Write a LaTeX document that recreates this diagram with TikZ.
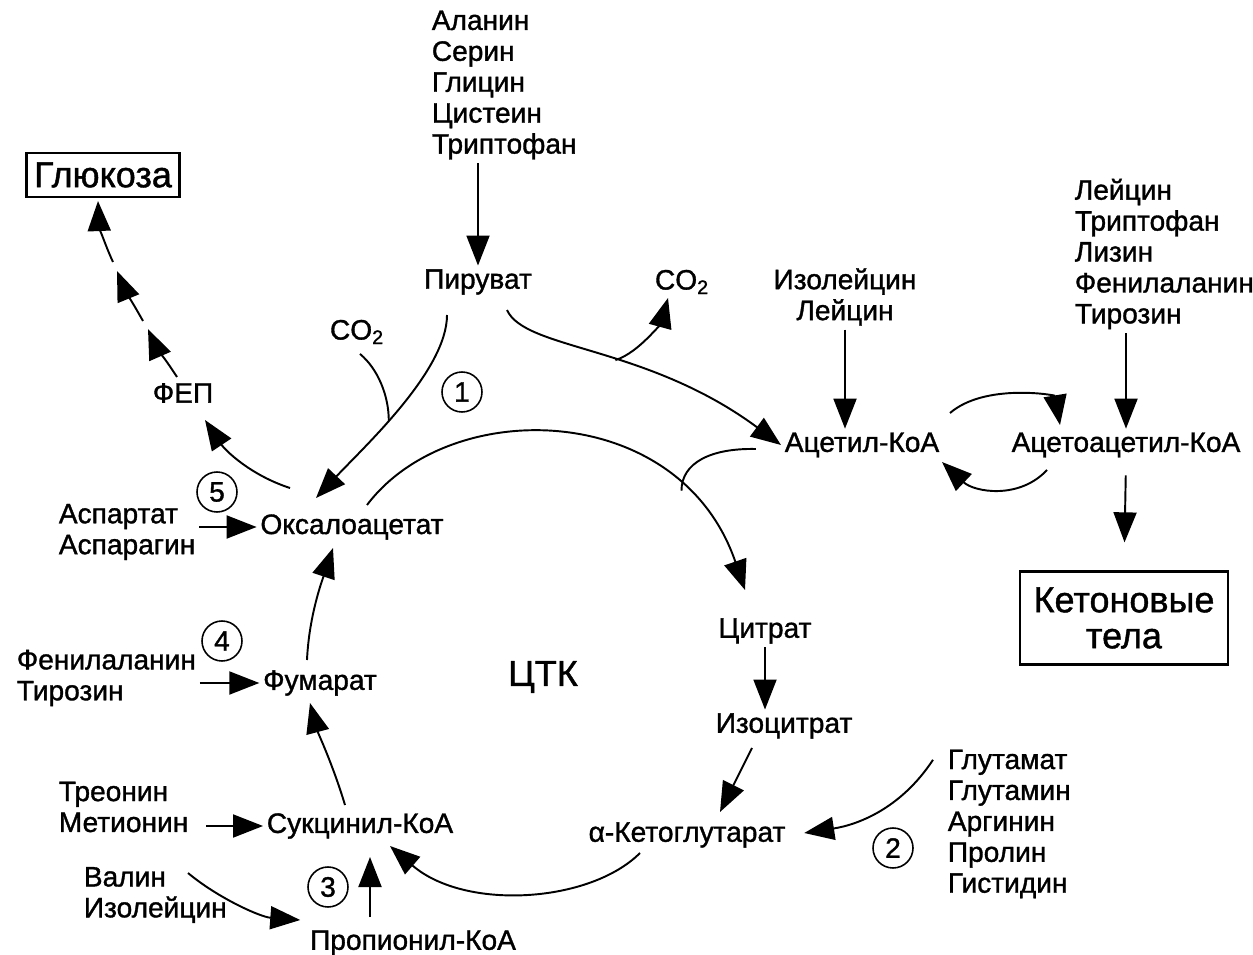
\documentclass[tikz,border=0pt]{standalone}
\usepackage{fontspec}
\setmainfont{Liberation Sans}[BoldFont=Liberation Sans, BoldFeatures={FakeBold=1.2}]
\usetikzlibrary{arrows.meta,calc}
\newcommand\txtfont{\fontsize{16}{17.6}\bfseries\selectfont}
\newcommand\bigfont{\fontsize{20.5}{20.5}\bfseries\selectfont}
\tikzset{
  lbl/.style={inner sep=2pt, font=\txtfont},
  lst/.style={lbl, align=left, anchor=west},
  num/.style={circle, draw, line width=0.9pt, minimum size=8mm, inner sep=0pt, font=\txtfont},
  endbox/.style={draw, line width=1.2pt, align=center, font=\bigfont},
  arr/.style={-{Triangle[length=6mm,width=4.6mm]}, line width=1.1pt},
  ln/.style={line width=1.1pt},
}

\begin{document}
\begin{tikzpicture}[x=0.02cm, y=-0.02cm]
  \useasboundingbox (0,0) rectangle (1253,955);
  % substances
  \node[lst] (glyc) at (428,85) {Аланин\\Серин\\Глицин\\Цистеин\\Триптофан};
  \node[lbl] (pyr) at (478,282) {Пируват};
  \node[lbl] (co2a) at (357,332) {CO\textsubscript{2}};
  \node[lbl] (co2b) at (682,282) {CO\textsubscript{2}};
  \node[lbl, align=center] (ile) at (845,297) {Изолейцин\\Лейцин};
  \node[lst] (ketl) at (1071,254) {Лейцин\\Триптофан\\Лизин\\Фенилаланин\\Тирозин};
  \node[lbl] (acet) at (862,445) {Ацетил-КоА};
  \node[lbl] (acac) at (1126,445) {Ацетоацетил-КоА};
  \node[endbox, minimum width=4.16cm, minimum height=1.86cm] (ket) at (1124,618) {Кетоновые\\тела};
  \node[endbox, minimum width=3.06cm, minimum height=0.88cm] (glu) at (103,175) {Глюкоза};
  \node[lbl] (fep) at (183,393) {ФЕП};
  \node[lbl] (oxa) at (352,527) {Оксалоацетат};
  \node[lst] (asp) at (55,532) {Аспартат\\Аспарагин};
  \node[lst] (phe) at (13,678) {Фенилаланин\\Тирозин};
  \node[lbl] (fum) at (320,683) {Фумарат};
  \node[lbl, font=\bigfont] (tca) at (543,677) {ЦТК};
  \node[lbl] (cit) at (765,631) {Цитрат};
  \node[lbl] (icit) at (784,726) {Изоцитрат};
  \node[lbl] (akg) at (687,835) {α-Кетоглутарат};
  \node[lst] (glt) at (944,824) {Глутамат\\Глутамин\\Аргинин\\Пролин\\Гистидин};
  \node[lst] (thr) at (55,807) {Треонин\\Метионин};
  \node[lbl] (suc) at (360,826) {Сукцинил-КоА};
  \node[lst] (val) at (80,895) {Валин\\Изолейцин};
  \node[lbl] (prop) at (413,943) {Пропионил-КоА};
  % numbered steps
  \node[num] (n1) at (462,392) {1};
  \node[num] (n2) at (893,848) {2};
  \node[num] (n3) at (328,887) {3};
  \node[num] (n4) at (222,641) {4};
  \node[num] (n5) at (217,492) {5};
  \coordinate (k1) at (148,329);
  \coordinate (k2) at (143,321);
  \coordinate (k3) at (117,271);
  \coordinate (k4) at (113,262);
  % pyruvate and acetyl-CoA
  \draw[arr] (pyr |- glyc.south) -- (pyr.north);
  \draw[arr] ($(pyr)+(29,28)$) .. controls +(18,40) and +(-135,-100) .. coordinate[pos=0.55] (brA) (acet.west);
  \draw[arr] (brA) .. controls +(25,-8) and +(-6,22) .. ($(co2b.south)+(-14,0)$);
  \draw[arr] ($(pyr)+(-31,33)$) .. controls +(0,55) and +(50,-53) .. coordinate[pos=0.57] (brB) ($(oxa)+(-36,-29)$);
  \draw[ln] ($(co2a.south)+(3,6)$) .. controls +(18,15) and +(0,-25) .. (brB);
  \draw[arr] (ile.south) -- (ile.south |- acet.north);
  \draw[arr] ($(acet)+(88,-32)$) .. controls +(35,-30) and +(-5,-30) .. ($(acac)+(-66,-20)$);
  \draw[arr] ($(acac)+(-79,25)$) .. controls +(-28,30) and +(32,30) .. ($(acet)+(80,17)$);
  \draw[arr] (acac |- ketl.south) -- (acac.north);
  \draw[arr, shorten <=8pt, shorten >=16pt] (acac.south) -- (ket.north);
  % gluconeogenesis
  \draw[arr] ($(oxa)+(-62,-39)$) .. controls +(-40,-13) and +(20,30) .. ($(fep)+(22,27)$);
  \draw[arr] ($(fep)+(-6,-16)$) .. controls +(-11,-17) and +(7,16) .. (k1);
  \draw[arr] (k2) .. controls +(-9,-16) and +(7,17) .. (k3);
  \draw[arr] (k4) .. controls +(-8,-17) and +(1,24) .. ($(glu.south)+(-5,3)$);
  % citric acid cycle
  \draw[arr] ($(oxa)+(15,-22)$) .. controls +(83,-110) and +(-65,-190) .. coordinate[pos=0.78] (jn) ($(cit)+(-20,-41)$);
  \draw[ln] ($(acet.west)+(-25,4)$) .. controls +(-45,-1) and +(0,-28) .. (jn);
  \draw[arr] (cit.south) -- (cit.south |- icit.north);
  \draw[arr] ($(icit)+(-32,22)$) -- ($(akg)+(33,-23)$);
  \draw[arr] ($(akg)+(-47,18)$) .. controls +(-50,50) and +(75,65) .. ($(suc)+(30,20)$);
  \draw[arr] ($(suc)+(-15,-21)$) .. controls +(-12,-40) and +(8,30) .. ($(fum)+(-10,20)$);
  \draw[arr] ($(fum)+(-13,-23)$) .. controls +(2,-45) and +(-10,30) .. ($(oxa)+(-19,21)$);
  % amino acid entries
  \draw[arr] (asp.east |- oxa) -- (oxa.west);
  \draw[arr] (phe.east |- fum) -- (fum.west);
  \draw[arr] ($(glt.north west)+(-11,14)$) .. controls +(-33,50) and +(52,-8) .. ($(akg.east)+(15,-2)$);
  \draw[arr] ($(thr.east |- suc)+(14,0)$) -- (suc.west);
  \draw[arr] ($(prop)+(-43,-26)$) -- ($(suc)+(10,31)$);
  \draw[arr] ($(val.west)+(108,-22)$) .. controls +(30,25) and +(-40,-3) .. ($(prop.west)+(-6,-23)$);
\end{tikzpicture}
\end{document}
